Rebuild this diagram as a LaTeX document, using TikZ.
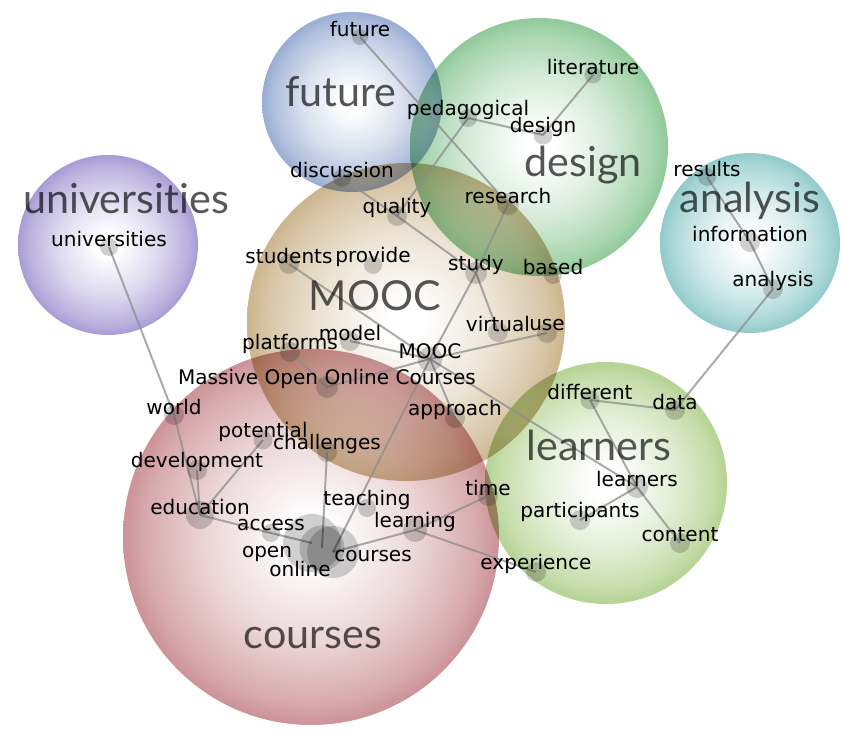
\documentclass[tikz,border=0pt]{standalone}
\usepackage{fontspec}
\newfontfamily\wordfont{DejaVu Sans}
\newfontfamily\topicfont{Lato}[Ligatures=NoCommon]
\usetikzlibrary{positioning}
\pgfdeclarelayer{bubbles}
\pgfdeclarelayer{links}
\pgfsetlayers{bubbles,links,main}
\definecolor{futurec}{RGB}{135,158,202}
\definecolor{designc}{RGB}{125,192,135}
\definecolor{univc}{RGB}{152,138,205}
\definecolor{analysisc}{RGB}{125,193,193}
\definecolor{moocc}{RGB}{195,168,122}
\definecolor{coursesc}{RGB}{195,128,133}
\definecolor{learnersc}{RGB}{168,203,128}
\colorlet{bubcol}{gray}
\pgfdeclareradialshading[bubcol]{bubble}{\pgfpoint{0bp}{0bp}}{%
  color(0bp)=(white); color(3bp)=(white); color(14bp)=(bubcol!38!white);
  color(22bp)=(bubcol!78!white); color(25bp)=(bubcol); color(50bp)=(bubcol)}
\tikzset{
  bubble/.code={\colorlet{bubcol}{#1}\pgfkeysalso{shading=bubble}},
  term/.style={circle,fill=black,fill opacity=0.18,inner sep=0pt,minimum size=#1},
  term/.default=3.6mm,
  word/.style={font=\wordfont\fontsize{11.4}{13}\selectfont,anchor=base,inner sep=0pt,
    yshift=4.5pt,fill opacity=1,text opacity=1,text=black},
  topic/.style={font=\topicfont\fontsize{23.5}{27}\selectfont,anchor=base,inner sep=0pt,
    text=black,text opacity=0.66},
  link/.style={draw=black!45,draw opacity=0.75,line width=1.1pt}
}

\begin{document}
\begin{tikzpicture}

  \useasboundingbox (0,0) rectangle (17,-14.84);

  % clusters
  \begin{pgfonlayer}{bubbles}
  \begin{scope}[blend mode=multiply,fill opacity=0.85]
    \shade[bubble=coursesc]  (6.22,-10.74) circle (3.76);
    \shade[bubble=moocc]     (8.12, -6.44) circle (3.18);
    \shade[bubble=learnersc] (12.12,-9.66) circle (2.42);
    \shade[bubble=univc]     (2.16, -4.90) circle (1.80);
    \shade[bubble=futurec]   (7.04, -2.04) circle (1.80);
    \shade[bubble=designc]   (10.78,-2.94) circle (2.58);
    \shade[bubble=analysisc] (15.00,-4.86) circle (1.80);
  \end{scope}
  \end{pgfonlayer}

  \node[topic] (t-future)       at (6.82, -2.14)  {future};
  \node[topic] (t-design)       at (11.66,-3.52)  {design};
  \node[topic] (t-universities) at (2.52, -4.26)  {universities};
  \node[topic] (t-analysis)     at (15.00,-4.24)  {analysis};
  \node[topic] (t-mooc)         at (7.50, -6.20)  {MOOC};
  \node[topic] (t-learners)     at (11.98,-9.20)  {learners};
  \node[topic] (t-courses)      at (6.26,-12.96)  {courses};

  % terms
  \node[term=3.2mm, label={[word]center:future}]       (future)       at (7.20, -0.74) {};
  \node[term,       label={[word]center:pedagogical}]  (pedagogical)  at (9.36, -2.36) {};
  \node[term=3.8mm, label={[word]center:design}]       (design)       at (10.86,-2.70) {};
  \node[term=3.4mm, label={[word]center:literature}]   (literature)   at (11.86,-1.50) {};
  \node[term,       label={[word]center:discussion}]   (discussion)   at (6.84, -3.56) {};
  \node[term=4mm,   label={[word]center:quality}]      (quality)      at (7.94, -4.32) {};
  \node[term=4.4mm, label={[word]center:research}]     (research)     at (10.16,-4.08) {};
  \node[term=4mm,   label={[word]center:students}]     (students)     at (5.78, -5.28) {};
  \node[term,       label={[word]center:provide}]      (provide)      at (7.46, -5.30) {};
  \node[term=4.4mm, label={[word]center:study}]        (study)        at (9.52, -5.46) {};
  \node[term,       label={[word]center:based}]        (based)        at (11.06,-5.50) {};
  \node[term=4mm,   label={[word]center:model}]        (model)        at (7.00, -6.82) {};
  \node[term=4mm,   label={[word]center:virtual}]      (virtual)      at (9.96, -6.64) {};
  \node[term=4mm,   label={[word]center:use}]          (use)          at (10.94,-6.66) {};
  \node[term=4mm,   label={[word]center:platforms}]    (platforms)    at (5.80, -7.04) {};
  \node[term=5mm,   label={[word]center:MOOC}]         (mooc)         at (8.60, -7.18) {};
  \node[term=4.4mm, label={[word]center:Massive Open Online Courses}] (massive) at (6.54,-7.74) {};
  \node[term=4mm,   label={[word]center:approach}]     (approach)     at (9.10, -8.36) {};
  \node[term=4mm,   label={[word]center:world}]        (world)        at (3.48, -8.30) {};
  \node[term=3.8mm, label={[word]center:potential}]    (potential)    at (5.26, -8.80) {};
  \node[term=4mm,   label={[word]center:challenges}]   (challenges)   at (6.54, -9.04) {};
  \node[term=4mm,   label={[word]center:development}]  (development)  at (3.94, -9.40) {};
  \node[term=5.6mm, label={[word]center:education}]    (education)    at (4.00,-10.30) {};
  \node[term,       label={[word]center:access}]       (access)       at (5.42,-10.66) {};
  \node[term,       label={[word]center:teaching}]     (teaching)     at (7.34,-10.16) {};
  \node[term=4.8mm, label={[word]center:learning}]     (learning)     at (8.30,-10.60) {};
  \node[term=4mm,   label={[word]center:time}]         (time)         at (9.76, -9.92) {};
  \node[term=11.6mm,label={[word,xshift=-0.90cm,yshift=-0.375cm]center:open}]   (open)    at (6.24,-10.86) {};
  \node[term=9mm,   label={[word,xshift=-0.44cm,yshift=-0.575cm]center:online}] (online)  at (6.44,-10.96) {};
  \node[term=10.4mm,label={[word,xshift=0.80cm,yshift=-0.235cm]center:courses}] (courses) at (6.66,-11.04) {};
  \node[term=3.8mm, label={[word]center:different}]    (different)    at (11.80,-8.00) {};
  \node[term=4mm,   label={[word]center:data}]         (data)         at (13.50,-8.20) {};
  \node[term=4.4mm, label={[word]center:learners}]     (learners)     at (12.74,-9.74) {};
  \node[term=4mm,   label={[word]center:participants}] (participants) at (11.60,-10.40) {};
  \node[term=4mm,   label={[word]center:content}]      (content)      at (13.60,-10.86) {};
  \node[term=4mm,   label={[word]center:experience}]   (experience)   at (10.72,-11.44) {};
  \node[term,       label={[word]center:results}]      (results)      at (14.14,-3.54) {};
  \node[term=4mm,   label={[word]center:information}]  (information)  at (15.00,-4.84) {};
  \node[term=4mm,   label={[word]center:analysis}]     (analysis)     at (15.46,-5.78) {};
  \node[term,       label={[word]center:universities}] (universities) at (2.18, -4.94) {};

  % links
  \begin{pgfonlayer}{links}
  \draw[link] (future.center) -- (research.center);
  \draw[link] (pedagogical.center) -- (design.center);
  \draw[link] (design.center) -- (literature.center);
  \draw[link] (pedagogical.center) -- (quality.center);
  \draw[link] (discussion.center) -- (quality.center);
  \draw[link] (quality.center) -- (study.center);
  \draw[link] (research.center) -- (study.center);
  \draw[link] (study.center) -- (mooc.center);
  \draw[link] (study.center) -- (virtual.center);
  \draw[link] (students.center) -- (mooc.center);
  \draw[link] (model.center) -- (mooc.center);
  \draw[link] (mooc.center) -- (use.center);
  \draw[link] (mooc.center) -- (massive.center);
  \draw[link] (platforms.center) -- (massive.center);
  \draw[link] (mooc.center) -- (approach.center);
  \draw[link] (mooc.center) -- (learners.center);
  \draw[link] (mooc.center) -- (courses.center);
  \draw[link] (challenges.center) -- (online.center);
  \draw[link] (universities.center) -- (world.center);
  \draw[link] (world.center) -- (education.center);
  \draw[link] (development.center) -- (education.center);
  \draw[link] (potential.center) -- (education.center);
  \draw[link] (education.center) -- (access.center);
  \draw[link] (access.center) -- (open.center);
  \draw[link] (courses.center) -- (learning.center);
  \draw[link] (learning.center) -- (time.center);
  \draw[link] (learning.center) -- (experience.center);
  \draw[link] (different.center) -- (data.center);
  \draw[link] (different.center) -- (learners.center);
  \draw[link] (learners.center) -- (content.center);
  \draw[link] (learners.center) -- (participants.center);
  \draw[link] (data.center) -- (analysis.center);
  \draw[link] (analysis.center) -- (information.center);
  \draw[link] (information.center) -- (results.center);
  \end{pgfonlayer}

\end{tikzpicture}
\end{document}
